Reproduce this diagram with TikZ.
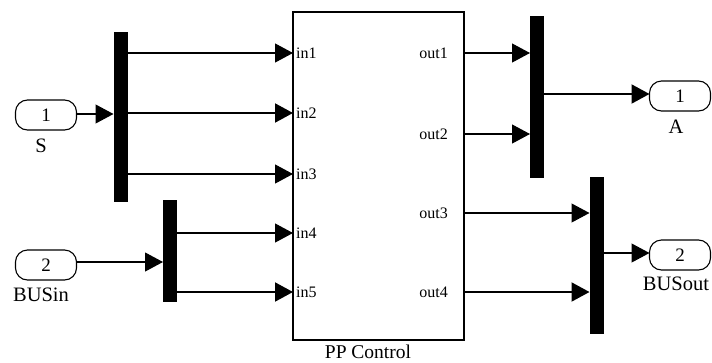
\documentclass[tikz,border=0pt]{standalone}
\usepackage{fontspec}
\setmainfont{Liberation Serif}
\usetikzlibrary{arrows.meta}
\begin{document}
\begin{tikzpicture}[x=1pt,y=-1pt,
  bar/.style={fill=black, draw=none, minimum width=14pt, inner sep=0pt, outer sep=0pt},
  block/.style={draw, line width=1.2pt, inner sep=0pt, outer sep=0pt},
  port/.style={draw, line width=1.1pt, rounded corners=12pt, minimum width=61pt,
    minimum height=30pt, inner sep=0pt, outer sep=0pt, font=\fontsize{19}{19}\selectfont},
  sig/.style={line width=1.1pt, -{Triangle[length=18pt,width=19pt]}},
  bus/.style={sig, line width=2pt},
  plabel/.style={font=\fontsize{16}{16}\selectfont, inner sep=0pt},
  blabel/.style={font=\fontsize{20.5}{20.5}\selectfont, inner sep=0pt},
  tlabel/.style={font=\fontsize{19.5}{19.5}\selectfont, inner sep=0pt}]
\useasboundingbox (0,0) rectangle (712,362);

% subsystem
\node[block, minimum width=171pt, minimum height=328pt] (blk) at (378.5,176) {};
\node[tlabel] (blkname) at (368,352) {PP Control};

% bus selectors and creators
\node[bar, minimum height=170pt] (selS) at (120.5,117) {};
\node[bar, minimum height=102pt] (selB) at (170,251) {};
\node[bar, minimum height=162pt] (crA) at (537,97) {};
\node[bar, minimum height=157pt] (crB) at (596.5,255.5) {};

% ports
\node[port] (S) at (46,115) {1};
\node[blabel] (Sname) at (41,146) {S};
\node[port] (BUSin) at (46,265) {2};
\node[blabel] (BUSinname) at (41,295) {BUSin};
\node[port] (A) at (680,96) {1};
\node[blabel] (Aname) at (676,127) {A};
\node[port] (BUSout) at (680,255) {2};
\node[blabel] (BUSoutname) at (676,284) {BUSout};

% subsystem port positions
\coordinate (in1) at (blk.west |- 0,53);
\coordinate (in2) at (blk.west |- 0,113);
\coordinate (in3) at (blk.west |- 0,174);
\coordinate (in4) at (blk.west |- 0,233);
\coordinate (in5) at (blk.west |- 0,292);
\coordinate (out1) at (blk.east |- 0,53);
\coordinate (out2) at (blk.east |- 0,134);
\coordinate (out3) at (blk.east |- 0,213);
\coordinate (out4) at (blk.east |- 0,292);

\foreach \p in {in1,in2,in3,in4,in5}
  \node[plabel, anchor=west] at ([xshift=3pt]\p) {\p};
\foreach \p in {out1,out2,out3,out4}
  \node[plabel, anchor=east] at ([xshift=-16pt]\p) {\p};

% signals
\draw[sig] (S.east |- 0,114) -- (selS.west |- 0,114);
\draw[sig] (selS.east |- in1) -- (in1);
\draw[bus] (selS.east |- in2) -- (in2);
\draw[sig] (selS.east |- in3) -- (in3);
\draw[sig] (BUSin.east |- 0,262) -- (selB.west |- 0,262);
\draw[sig] (selB.east |- in4) -- (in4);
\draw[bus] (selB.east |- in5) -- (in5);
\draw[sig] (out1) -- (crA.west |- out1);
\draw[sig] (out2) -- (crA.west |- out2);
\draw[sig] (out3) -- (crB.west |- out3);
\draw[bus] (out4) -- (crB.west |- out4);
\draw[bus] (crA.east |- 0,94) -- (A.west |- 0,94);
\draw[sig] (crB.east |- 0,253) -- (BUSout.west |- 0,253);
\end{tikzpicture}
\end{document}
